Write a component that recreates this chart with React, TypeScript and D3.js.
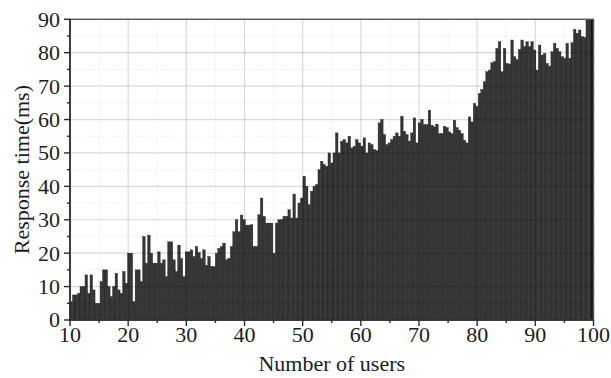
import React from "react";
import * as d3 from "d3";

// Response time (ms) per bar, left to right (users 10 → 100)
const responseTimes: number[] = [
  5.5, 7.5, 7.5, 8, 10, 10, 13.5, 8, 13.5, 9,
  5, 5, 11.5, 15, 15, 10, 7, 10, 14, 9,
  8, 14.5, 11, 20, 20, 5.5, 15, 15, 11.5, 25,
  17, 25.4, 20, 17, 17, 20.4, 17, 18, 13, 23.4,
  23.4, 18, 14.5, 22.4, 18.4, 13, 20.4, 20.4, 21, 19,
  22, 20.2, 18.4, 21, 16.4, 19, 16, 16, 20, 21.4,
  22, 23, 18, 18.5, 22, 26.4, 30, 26.4, 31.4, 30,
  28.4, 28.4, 28.5, 22, 22, 31.5, 36.5, 31, 29, 29,
  29, 20, 29, 30, 30, 31, 31, 33, 30.5, 37.7,
  30.5, 35, 36.5, 43, 40, 34.5, 38.5, 40, 40.5, 45,
  47.5, 46.5, 46, 50, 47, 50, 56, 50, 53.5, 54,
  53, 55, 51.5, 52, 54, 53, 52, 54.5, 50, 53,
  52.5, 51, 50.7, 59, 60, 55.5, 52.5, 53, 54, 55,
  56, 55, 61, 56.5, 55.5, 53.5, 56, 60.5, 53, 59,
  60, 58.5, 58.5, 62.8, 58.3, 57.8, 58.6, 55.8, 55.8, 58,
  57.6, 56.3, 55.8, 59.8, 57.6, 56.8, 55.8, 53.8, 53, 60.8,
  59.3, 64.8, 64, 67.8, 69, 71.3, 74.3, 74.8, 77, 77.3,
  81.3, 83.3, 74.3, 81.3, 76.8, 76.6, 83.8, 78.8, 78, 81,
  83.8, 81.8, 83.3, 81.8, 83.3, 80.8, 74.8, 82.3, 79.3, 79.8,
  76.8, 76, 80.3, 82.8, 81.3, 80.3, 78.8, 78.3, 82.8, 78.3,
  83, 87, 85.8, 86.8, 84.8, 84.6, 90, 90, 90,
];
const barIndex: number[] = responseTimes.map((_, i) => i);

const xTicks: number[] = [10, 20, 30, 40, 50, 60, 70, 80, 90, 100];
const xMinorTicks: number[] = [15, 25, 35, 45, 55, 65, 75, 85, 95];
const yTicks: number[] = [0, 10, 20, 30, 40, 50, 60, 70, 80, 90];
const yMinorTicks: number[] = [5, 15, 25, 35, 45, 55, 65, 75, 85];

const xTitle = "Number of users";
const yTitle = "Response time(ms)";

export default function App() {
  const W = 611;
  const H = 378;
  const left = 70;
  const right = 593.5;
  const top = 19.3;
  const bottom = 320;

  const x = d3.scaleLinear().domain([10, 100]).range([left, right]);
  const y = d3.scaleLinear().domain([0, 90]).range([bottom, top]);
  const band = d3
    .scaleBand<number>()
    .domain(barIndex)
    .range([left, right])
    .paddingInner(0)
    .paddingOuter(0);

  const font = "'Liberation Serif', 'Times New Roman', serif";
  const textColor = "#1c1c1c";
  const fs = 22;
  const n = responseTimes.length;

  return (
    <svg
      width={W}
      height={H}
      style={{ position: "absolute", left: 0, top: 0, background: "#fff" }}
    >
      {/* bars */}
      <g>
        {barIndex.map((i) => (
          <rect
            key={i}
            x={band(i)!}
            y={y(responseTimes[i])}
            width={band.bandwidth()}
            height={bottom - y(responseTimes[i])}
            fill={i === n - 1 ? "#161616" : "#363636"}
            stroke="#222"
            strokeWidth={0.4}
          />
        ))}
      </g>

      {/* grid drawn over bars with translucent black */}
      <g>
        {yMinorTicks.map((t) => (
          <line
            key={"ym" + t}
            x1={left}
            x2={right}
            y1={y(t)}
            y2={y(t)}
            stroke="rgba(0,0,0,0.08)"
            strokeWidth={1}
            strokeDasharray="1.5,1.5"
          />
        ))}
        {xMinorTicks.map((t) => (
          <line
            key={"xm" + t}
            x1={x(t)}
            x2={x(t)}
            y1={top}
            y2={bottom}
            stroke="rgba(0,0,0,0.08)"
            strokeWidth={1}
            strokeDasharray="1.5,1.5"
          />
        ))}
        {yTicks.slice(1, -1).map((t) => (
          <line
            key={"yg" + t}
            x1={left}
            x2={right}
            y1={y(t)}
            y2={y(t)}
            stroke="rgba(0,0,0,0.15)"
            strokeWidth={1.2}
          />
        ))}
        {xTicks.slice(1, -1).map((t) => (
          <line
            key={"xg" + t}
            x1={x(t)}
            x2={x(t)}
            y1={top}
            y2={bottom}
            stroke="rgba(0,0,0,0.15)"
            strokeWidth={1.2}
          />
        ))}
      </g>

      {/* frame */}
      <rect
        x={left}
        y={top}
        width={right - left}
        height={bottom - top}
        fill="none"
        stroke="#555"
        strokeWidth={1.4}
      />
      <line x1={left} x2={left} y1={top} y2={bottom + 0.5} stroke="#2a2a2a" strokeWidth={1.6} />
      <line x1={left} x2={right} y1={bottom} y2={bottom} stroke="#2a2a2a" strokeWidth={1.6} />

      {/* y ticks */}
      {yTicks.map((t) => (
        <g key={"yt" + t}>
          <line x1={left - 6} x2={left} y1={y(t)} y2={y(t)} stroke="#2a2a2a" strokeWidth={1.4} />
          <text
            x={left - 10}
            y={y(t)}
            dy="0.34em"
            textAnchor="end"
            fontFamily={font}
            fontSize={fs}
            fill={textColor}
          >
            {t}
          </text>
        </g>
      ))}
      {yMinorTicks.map((t) => (
        <line key={"ymt" + t} x1={left - 3} x2={left} y1={y(t)} y2={y(t)} stroke="#2a2a2a" strokeWidth={1.4} />
      ))}

      {/* x ticks */}
      {xTicks.map((t) => (
        <g key={"xt" + t}>
          <line x1={x(t)} x2={x(t)} y1={bottom} y2={bottom + 6} stroke="#2a2a2a" strokeWidth={1.4} />
          <text
            x={x(t)}
            y={342}
            textAnchor="middle"
            fontFamily={font}
            fontSize={fs}
            fill={textColor}
          >
            {t}
          </text>
        </g>
      ))}
      {xMinorTicks.map((t) => (
        <line key={"xmt" + t} x1={x(t)} x2={x(t)} y1={bottom} y2={bottom + 3} stroke="#2a2a2a" strokeWidth={1.4} />
      ))}

      {/* axis titles */}
      <text
        x={(left + right) / 2}
        y={371}
        textAnchor="middle"
        fontFamily={font}
        fontSize={fs}
        fill={textColor}
      >
        {xTitle}
      </text>
      <text
        transform={`translate(29, ${(top + bottom) / 2}) rotate(-90)`}
        textAnchor="middle"
        fontFamily={font}
        fontSize={fs}
        fill={textColor}
      >
        {yTitle}
      </text>
    </svg>
  );
}
